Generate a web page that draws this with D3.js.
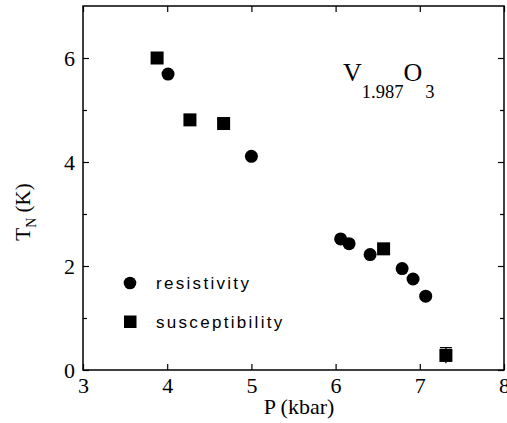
<!DOCTYPE html>
<html>
<head>
<meta charset="utf-8">
<script src="https://cdn.jsdelivr.net/npm/d3@7"></script>
<style>
  body { margin: 0; background: #fff; }
  svg { display: block; }
  .serif { font-family: "Liberation Serif", "Times New Roman", "DejaVu Serif", serif; }
  .sans { font-family: "Liberation Sans", Arial, sans-serif; }
</style>
</head>
<body>
<div id="chart"></div>
<script>
// resistivity points (P in kbar, T_N in K)
var resP = [4.01, 5.0, 6.06, 6.16, 6.41, 6.79, 6.92, 7.07];
var resT = [5.69, 4.11, 2.52, 2.43, 2.22, 1.95, 1.75, 1.42];
// susceptibility points
var susP = [3.88, 4.27, 4.67, 6.57, 7.31];
var susT = [6.0, 4.81, 4.74, 2.33, 0.28];
var susErr = [0, 0, 0, 0, 0.15];

var xTicks = [3, 4, 5, 6, 7, 8];
var yTicks = [0, 2, 4, 6];
var yMinor = [1, 3, 5];

var svgWidth = 507, svgHeight = 423;
var margin = { top: 6, right: 3, bottom: 53, left: 83 };
var width = svgWidth - margin.left - margin.right;
var height = svgHeight - margin.top - margin.bottom;

var svg = d3.select("#chart").append("svg")
    .attr("width", svgWidth)
    .attr("height", svgHeight);

var g = svg.append("g")
    .attr("transform", `translate(${margin.left}, ${margin.top})`);

var x = d3.scaleLinear().domain([3, 8]).range([0, width]);
var y = d3.scaleLinear().domain([0, 7]).range([height, 0]);

// inward ticks on all four sides
function styleAxis(sel) {
    sel.attr("font-family", null).attr("font-size", null);
    sel.select(".domain").remove();
    sel.selectAll(".tick line").attr("stroke", "#000").attr("stroke-width", 1.2);
}

g.append("g")
    .attr("class", "serif")
    .attr("transform", `translate(0, ${height})`)
    .call(d3.axisBottom(x).tickValues(xTicks).tickSize(-6).tickPadding(7).tickFormat(d3.format("d")))
    .call(styleAxis)
    .call(s => s.selectAll("text").style("font-size", "22px").attr("fill", "#000"));

g.append("g")
    .call(d3.axisTop(x).tickValues(xTicks).tickSize(-6).tickFormat(""))
    .call(styleAxis);

g.append("g")
    .attr("class", "serif")
    .call(d3.axisLeft(y).tickValues(yTicks).tickSize(-6).tickPadding(8).tickFormat(d3.format("d")))
    .call(styleAxis)
    .call(s => s.selectAll("text").style("font-size", "22px").attr("fill", "#000"));

g.append("g")
    .call(d3.axisLeft(y).tickValues(yMinor).tickSize(-4).tickFormat(""))
    .call(styleAxis);

g.append("g")
    .attr("transform", `translate(${width}, 0)`)
    .call(d3.axisRight(y).tickValues(yTicks).tickSize(-6).tickFormat(""))
    .call(styleAxis);

g.append("g")
    .attr("transform", `translate(${width}, 0)`)
    .call(d3.axisRight(y).tickValues(yMinor).tickSize(-4).tickFormat(""))
    .call(styleAxis);

// frame
g.append("rect")
    .attr("width", width)
    .attr("height", height)
    .attr("fill", "none")
    .attr("stroke", "#000")
    .attr("stroke-width", 1.5);

// axis titles
svg.append("text")
    .attr("class", "serif")
    .attr("x", 299)
    .attr("y", 414)
    .attr("text-anchor", "middle")
    .style("font-size", "22px")
    .text("P (kbar)");

var yt = svg.append("text")
    .attr("class", "serif")
    .attr("transform", "translate(30, 212) rotate(-90)")
    .attr("text-anchor", "middle")
    .style("font-size", "21px");
yt.append("tspan").text("T");
yt.append("tspan").attr("dy", 6).style("font-size", "14px").text("N");
yt.append("tspan").attr("dy", -6).text(" (K)");

// compound label
var lab = svg.append("text")
    .attr("class", "serif")
    .attr("x", 343)
    .attr("y", 81)
    .style("font-size", "26px");
lab.append("tspan").text("V");
lab.append("tspan").attr("dy", 17).style("font-size", "18.5px").text("1.987");
lab.append("tspan").attr("dy", -17).text("O");
lab.append("tspan").attr("dx", 3).attr("dy", 17).style("font-size", "18.5px").text("3");

// susceptibility error bars
var errIdx = d3.range(susP.length).filter(i => susErr[i] > 0);
g.selectAll(".err")
    .data(errIdx)
    .enter()
    .append("g")
    .attr("class", "err")
    .each(function(i) {
        var e = d3.select(this);
        var cx = x(susP[i]);
        e.append("line")
            .attr("x1", cx).attr("x2", cx)
            .attr("y1", y(susT[i] + susErr[i])).attr("y2", y(susT[i] - susErr[i]))
            .attr("stroke", "#000").attr("stroke-width", 1.3);
        e.append("line")
            .attr("x1", cx - 6).attr("x2", cx + 6)
            .attr("y1", y(susT[i] + susErr[i])).attr("y2", y(susT[i] + susErr[i]))
            .attr("stroke", "#000").attr("stroke-width", 1.3);
    });

// squares
var sq = 13;
g.selectAll(".sus")
    .data(d3.range(susP.length))
    .enter()
    .append("rect")
    .attr("class", "sus")
    .attr("x", i => x(susP[i]) - sq / 2)
    .attr("y", i => y(susT[i]) - sq / 2)
    .attr("width", sq)
    .attr("height", sq)
    .attr("fill", "#000");

// circles
g.selectAll(".res")
    .data(d3.range(resP.length))
    .enter()
    .append("circle")
    .attr("class", "res")
    .attr("cx", i => x(resP[i]))
    .attr("cy", i => y(resT[i]))
    .attr("r", 6.5)
    .attr("fill", "#000");

// legend
svg.append("circle")
    .attr("cx", 130).attr("cy", 283).attr("r", 6.3).attr("fill", "#000");
svg.append("text")
    .attr("class", "sans")
    .attr("x", 156).attr("y", 289)
    .style("font-size", "17px")
    .attr("letter-spacing", 2.3)
    .text("resistivity");
svg.append("rect")
    .attr("x", 124).attr("y", 315.5).attr("width", 12.5).attr("height", 12.5).attr("fill", "#000");
svg.append("text")
    .attr("class", "sans")
    .attr("x", 156).attr("y", 328)
    .style("font-size", "17px")
    .attr("letter-spacing", 2.3)
    .text("susceptibility");
</script>
</body>
</html>
